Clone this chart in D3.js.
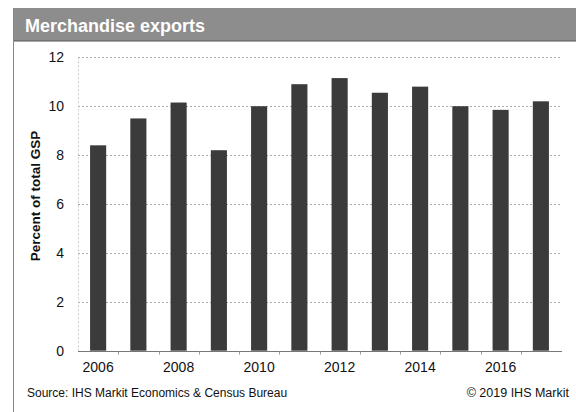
<!DOCTYPE html>
<html>
<head>
<meta charset="utf-8">
<script src="https://cdn.jsdelivr.net/npm/d3@7"></script>
<style>
  html, body { margin: 0; padding: 0; background: #fff; }
  svg { display: block; font-family: "Liberation Sans", Arial, sans-serif; }
</style>
</head>
<body>
<svg id="chart" width="576" height="412"></svg>
<script>
// Merchandise exports as a share of gross state product
const years = ["2006", "2007", "2008", "2009", "2010", "2011", "2012", "2013", "2014", "2015", "2016", "2017"];
const exportShare = [8.4, 9.5, 10.15, 8.2, 10.0, 10.9, 11.15, 10.55, 10.8, 10.0, 9.85, 10.2];
const yTicks = [0, 2, 4, 6, 8, 10, 12];
const xLabels = ["2006", "2008", "2010", "2012", "2014", "2016"];

const title = "Merchandise exports";
const yTitle = "Percent of total GSP";
const source = "Source: IHS Markit Economics & Census Bureau";
const credit = "\u00A9 2019 IHS Markit";

const svg = d3.select("#chart");

// header band and panel frame
svg.append("rect")
  .attr("x", 13).attr("y", 8).attr("width", 563).attr("height", 33)
  .attr("fill", "#8d8d8d");
svg.append("line")
  .attr("x1", 13).attr("x2", 576).attr("y1", 41).attr("y2", 41)
  .attr("stroke", "#555").attr("stroke-width", 1);
svg.append("line")
  .attr("x1", 13.5).attr("x2", 13.5).attr("y1", 8).attr("y2", 412)
  .attr("stroke", "#888").attr("stroke-width", 1);
svg.append("text")
  .attr("x", 25).attr("y", 32)
  .attr("fill", "#fff").attr("font-weight", "bold").attr("font-size", 18)
  .text(title);

const x = d3.scaleBand()
  .domain(years)
  .range([78, 561])
  .paddingInner(0.6)
  .paddingOuter(0.3);

const y = d3.scaleLinear()
  .domain([0, 12])
  .range([350.7, 57.3]);

// horizontal gridlines
svg.append("g")
  .selectAll("line")
  .data(yTicks.filter(d => d > 0))
  .join("line")
  .attr("x1", 78).attr("x2", 561)
  .attr("y1", d => Math.round(y(d)) + 0.5)
  .attr("y2", d => Math.round(y(d)) + 0.5)
  .attr("stroke", "#aaa")
  .attr("stroke-width", 1)
  .attr("stroke-dasharray", "2,2");

// faint left edge of the plot area
svg.append("line")
  .attr("x1", 78.5).attr("x2", 78.5)
  .attr("y1", y(12)).attr("y2", y(0))
  .attr("stroke", "#ccc").attr("stroke-dasharray", "2,2");

// bars
svg.append("g")
  .selectAll("rect")
  .data(years.map((yr, i) => ({ yr, v: exportShare[i] })))
  .join("rect")
  .attr("x", d => x(d.yr))
  .attr("width", x.bandwidth())
  .attr("y", d => y(d.v))
  .attr("height", d => y(0) - y(d.v))
  .attr("fill", "#3b3b3b");

// y axis labels
const yAxis = d3.axisLeft(y).tickValues(yTicks).tickSize(0).tickPadding(0)
  .tickFormat(d3.format("d"));
const gy = svg.append("g").attr("transform", "translate(64,0)").call(yAxis);
gy.select(".domain").remove();
gy.selectAll("text")
  .attr("font-size", 14)
  .attr("font-family", "Liberation Sans, Arial, sans-serif")
  .attr("fill", "#111");

// x axis baseline with category boundary ticks
const baseY = Math.round(y(0)) + 0.5;
svg.append("line")
  .attr("x1", 78).attr("x2", 562)
  .attr("y1", baseY).attr("y2", baseY)
  .attr("stroke", "#777").attr("stroke-width", 1);
const step = x.step();
svg.append("g")
  .selectAll("line")
  .data(years.slice(1))
  .join("line")
  .attr("x1", d => Math.round(x(d) - (step - x.bandwidth()) / 2) + 0.5)
  .attr("x2", d => Math.round(x(d) - (step - x.bandwidth()) / 2) + 0.5)
  .attr("y1", baseY).attr("y2", baseY + 3)
  .attr("stroke", "#999");

// x labels every other year
svg.append("g")
  .selectAll("text")
  .data(xLabels)
  .join("text")
  .attr("x", d => x(d) + x.bandwidth() / 2)
  .attr("y", 372)
  .attr("text-anchor", "middle")
  .attr("font-size", 14)
  .attr("fill", "#111")
  .text(d => d);

// y axis title
svg.append("text")
  .attr("transform", "translate(40,196) rotate(-90)")
  .attr("text-anchor", "middle")
  .attr("font-weight", "bold")
  .attr("font-size", 13.5)
  .attr("fill", "#111")
  .text(yTitle);

// footer
svg.append("text")
  .attr("x", 27).attr("y", 397)
  .attr("font-size", 12)
  .attr("fill", "#111")
  .text(source);
svg.append("text")
  .attr("x", 569).attr("y", 397)
  .attr("text-anchor", "end")
  .attr("font-size", 12.5)
  .attr("fill", "#111")
  .text(credit);
</script>
</body>
</html>
